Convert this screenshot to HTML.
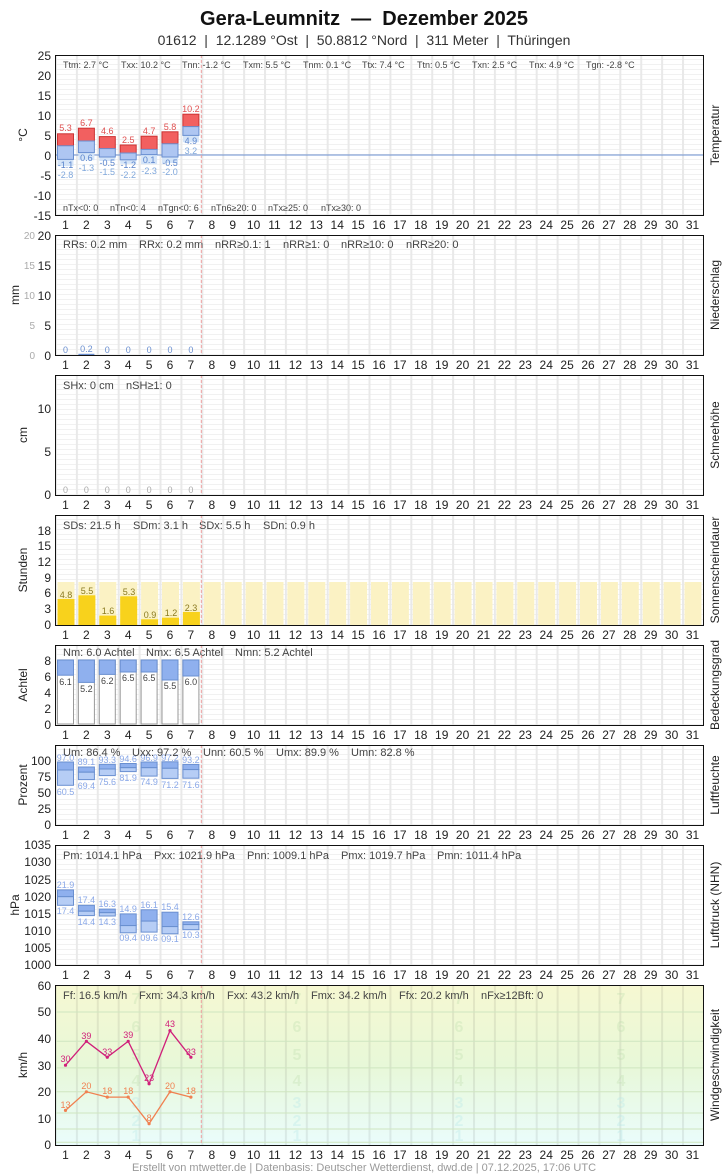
<!DOCTYPE html>
<html><head><meta charset="utf-8"><style>
body{margin:0;background:#fff}
svg{display:block;font-family:"Liberation Sans",sans-serif}
.ax{font-size:12px;fill:#222}
.dl{font-size:12px;fill:#222;text-anchor:middle}
.st{font-size:11px;fill:#444}
.st9{font-size:9px;fill:#444}
.rt{font-size:12px;fill:#222}
.pre{white-space:pre}
</style></head><body>
<svg width="728" height="1175" viewBox="0 0 728 1175">
<defs>
<pattern id="g" x="55" y="0" width="20.9" height="5" patternUnits="userSpaceOnUse">
<rect x="0" y="0" width="20.9" height="5" fill="#fff"/>
<rect x="0" y="4" width="20.9" height="1" fill="#f1f1f1"/>
<rect x="0" y="0" width="2" height="5" fill="#e9e9e9"/>
</pattern>
<pattern id="gv" x="55" y="0" width="20.9" height="5" patternUnits="userSpaceOnUse">
<rect x="0" y="0" width="2" height="5" fill="#000" opacity="0.07"/>
</pattern>
<linearGradient id="wg" x1="0" y1="0" x2="0" y2="1">
<stop offset="0" stop-color="#f6f8d2"/><stop offset="0.5" stop-color="#e8f8d8"/><stop offset="1" stop-color="#eafcfc"/>
</linearGradient>
</defs>

<text class="pre" x="364" y="25" text-anchor="middle" font-size="20" font-weight="bold" fill="#111" xml:space="preserve">Gera-Leumnitz  —  Dezember 2025</text>
<text class="pre" x="364" y="45" text-anchor="middle" font-size="14" fill="#333" xml:space="preserve">01612  |  12.1289 °Ost  |  50.8812 °Nord  |  311 Meter  |  Thüringen</text>

<rect x="55" y="55" width="648" height="160" fill="url(#g)"/>
<rect x="55" y="235" width="648" height="120" fill="url(#g)"/>
<rect x="55" y="375" width="648" height="120" fill="url(#g)"/>
<rect x="55" y="515" width="648" height="110" fill="url(#g)"/>
<rect x="55" y="645" width="648" height="80" fill="url(#g)"/>
<rect x="55" y="745" width="648" height="80" fill="url(#g)"/>
<rect x="55" y="845" width="648" height="120" fill="url(#g)"/>
<rect x="55" y="985" width="648" height="160" fill="url(#wg)"/>
<rect x="55" y="985" width="648" height="160" fill="url(#gv)"/>

<!-- TEMPERATURE -->
<g class="ax" text-anchor="end">
<text x="51" y="60">25</text><text x="51" y="80">20</text><text x="51" y="100">15</text><text x="51" y="120">10</text><text x="51" y="140">5</text><text x="51" y="160">0</text><text x="51" y="180">-5</text><text x="51" y="200">-10</text><text x="51" y="220">-15</text>
</g>
<text class="ax" transform="translate(27,135) rotate(-90)" text-anchor="middle">°C</text>
<line x1="55" y1="155" x2="703" y2="155" stroke="#6a8fd0" stroke-width="1"/>
<g>
<rect x="57.5" y="159.4" width="16" height="6.8" fill="#d4e4f8"/>
<rect x="78.4" y="152.6" width="16" height="7.6" fill="#d4e4f8"/>
<rect x="99.3" y="157" width="16" height="4" fill="#d4e4f8"/>
<rect x="120.2" y="159.8" width="16" height="4" fill="#d4e4f8"/>
<rect x="141.1" y="154.6" width="16" height="9.6" fill="#d4e4f8"/>
<rect x="162" y="157" width="16" height="6" fill="#d4e4f8"/>
<rect x="182.9" y="135.4" width="16" height="6.8" fill="#d4e4f8"/>
</g>
<g stroke-width="1">
<rect x="57.5" y="133.8" width="16" height="12" fill="#f26060" stroke="#c33"/><rect x="57.5" y="145.8" width="16" height="13.6" fill="#aec6f2" stroke="#6a8fd0"/>
<rect x="78.4" y="128.2" width="16" height="12.8" fill="#f26060" stroke="#c33"/><rect x="78.4" y="141" width="16" height="11.6" fill="#aec6f2" stroke="#6a8fd0"/>
<rect x="99.3" y="136.6" width="16" height="12" fill="#f26060" stroke="#c33"/><rect x="99.3" y="148.6" width="16" height="8.4" fill="#aec6f2" stroke="#6a8fd0"/>
<rect x="120.2" y="145" width="16" height="8" fill="#f26060" stroke="#c33"/><rect x="120.2" y="153" width="16" height="6.8" fill="#aec6f2" stroke="#6a8fd0"/>
<rect x="141.1" y="136.2" width="16" height="13.2" fill="#f26060" stroke="#c33"/><rect x="141.1" y="149.4" width="16" height="5.2" fill="#aec6f2" stroke="#6a8fd0"/>
<rect x="162" y="131.8" width="16" height="12" fill="#f26060" stroke="#c33"/><rect x="162" y="143.8" width="16" height="13.2" fill="#aec6f2" stroke="#6a8fd0"/>
<rect x="182.9" y="114.2" width="16" height="12.4" fill="#f26060" stroke="#c33"/><rect x="182.9" y="126.6" width="16" height="8.8" fill="#aec6f2" stroke="#6a8fd0"/>
</g>
<g font-size="9" text-anchor="middle" fill="#e05050">
<text x="65.5" y="131">5.3</text><text x="86.4" y="126">6.7</text><text x="107.3" y="134">4.6</text><text x="128.2" y="143">2.5</text><text x="149.1" y="134">4.7</text><text x="170" y="130">5.8</text><text x="190.9" y="112">10.2</text>
</g>
<g font-size="9" text-anchor="middle" fill="#5a84cc">
<text x="65.5" y="168">-1.1</text><text x="86.4" y="161">0.6</text><text x="107.3" y="166">-0.5</text><text x="128.2" y="168">-1.2</text><text x="149.1" y="163">0.1</text><text x="170" y="166">-0.5</text><text x="190.9" y="144">4.9</text>
</g>
<g font-size="9" text-anchor="middle" fill="#80a8dc">
<text x="65.5" y="178">-2.8</text><text x="86.4" y="171">-1.3</text><text x="107.3" y="175">-1.5</text><text x="128.2" y="178">-2.2</text><text x="149.1" y="174">-2.3</text><text x="170" y="175">-2.0</text><text x="190.9" y="154">3.2</text>
</g>
<g class="st9">
<text x="63" y="68">Ttm: 2.7 °C</text><text x="121" y="68">Txx: 10.2 °C</text><text x="182" y="68">Tnn: -1.2 °C</text><text x="243" y="68">Txm: 5.5 °C</text><text x="303" y="68">Tnm: 0.1 °C</text><text x="362" y="68">Ttx: 7.4 °C</text><text x="417" y="68">Ttn: 0.5 °C</text><text x="472" y="68">Txn: 2.5 °C</text><text x="529" y="68">Tnx: 4.9 °C</text><text x="586" y="68">Tgn: -2.8 °C</text>
<text x="63" y="211">nTx&lt;0: 0</text><text x="110" y="211">nTn&lt;0: 4</text><text x="158" y="211">nTgn&lt;0: 6</text><text x="211" y="211">nTn6≥20: 0</text><text x="268" y="211">nTx≥25: 0</text><text x="321" y="211">nTx≥30: 0</text>
</g>
<text class="rt" transform="translate(719,135) rotate(-90)" text-anchor="middle">Temperatur</text>

<!-- PRECIP -->
<g class="ax" text-anchor="end">
<text x="51" y="240">20</text><text x="51" y="270">15</text><text x="51" y="300">10</text><text x="51" y="330">5</text><text x="51" y="360">0</text>
</g>
<g font-size="10" fill="#aaa" text-anchor="end">
<text x="35" y="239">20</text><text x="35" y="269">15</text><text x="35" y="299">10</text><text x="35" y="329">5</text><text x="35" y="359">0</text>
</g>
<text class="ax" transform="translate(19,295) rotate(-90)" text-anchor="middle">mm</text>
<rect x="78.4" y="353.8" width="16" height="1.2" fill="#6a8fd0"/>
<g font-size="9" text-anchor="middle" fill="#6a8fd0">
<text x="65.5" y="353">0</text><text x="86.4" y="352">0.2</text><text x="107.3" y="353">0</text><text x="128.2" y="353">0</text><text x="149.1" y="353">0</text><text x="170" y="353">0</text><text x="190.9" y="353">0</text>
</g>
<g class="st">
<text x="63" y="248">RRs: 0.2 mm</text><text x="139" y="248">RRx: 0.2 mm</text><text x="215" y="248">nRR≥0.1: 1</text><text x="283" y="248">nRR≥1: 0</text><text x="341" y="248">nRR≥10: 0</text><text x="406" y="248">nRR≥20: 0</text>
</g>
<text class="rt" transform="translate(719,295) rotate(-90)" text-anchor="middle">Niederschlag</text>

<!-- SNOW -->
<g class="ax" text-anchor="end">
<text x="51" y="413">10</text><text x="51" y="456">5</text><text x="51" y="499">0</text>
</g>
<text class="ax" transform="translate(27,435) rotate(-90)" text-anchor="middle">cm</text>
<g font-size="9" text-anchor="middle" fill="#aaa">
<text x="65.5" y="493">0</text><text x="86.4" y="493">0</text><text x="107.3" y="493">0</text><text x="128.2" y="493">0</text><text x="149.1" y="493">0</text><text x="170" y="493">0</text><text x="190.9" y="493">0</text>
</g>
<g class="st"><text x="63" y="389">SHx: 0 cm</text><text x="126" y="389">nSH≥1: 0</text></g>
<text class="rt" transform="translate(719,435) rotate(-90)" text-anchor="middle">Schneehöhe</text>

<!-- SUN -->
<g class="ax" text-anchor="end">
<text x="51" y="535">18</text><text x="51" y="550">15</text><text x="51" y="566">12</text><text x="51" y="582">9</text><text x="51" y="597">6</text><text x="51" y="613">3</text><text x="51" y="629">0</text>
</g>
<text class="ax" transform="translate(27,570) rotate(-90)" text-anchor="middle">Stunden</text>
<g fill="#fbf2c4">
<rect x="57.5" y="582" width="17" height="43"/><rect x="78.4" y="582" width="17" height="43"/><rect x="99.3" y="582" width="17" height="43"/><rect x="120.2" y="582" width="17" height="43"/><rect x="141.1" y="582" width="17" height="43"/><rect x="162" y="582" width="17" height="43"/><rect x="182.9" y="582" width="17" height="43"/><rect x="203.8" y="582" width="17" height="43"/><rect x="224.7" y="582" width="17" height="43"/><rect x="245.6" y="582" width="17" height="43"/><rect x="266.5" y="582" width="17" height="43"/><rect x="287.4" y="582" width="17" height="43"/><rect x="308.3" y="582" width="17" height="43"/><rect x="329.2" y="582" width="17" height="43"/><rect x="350.1" y="582" width="17" height="43"/><rect x="371" y="582" width="17" height="43"/><rect x="391.9" y="582" width="17" height="43"/><rect x="412.8" y="582" width="17" height="43"/><rect x="433.7" y="582" width="17" height="43"/><rect x="454.6" y="582" width="17" height="43"/><rect x="475.5" y="582" width="17" height="43"/><rect x="496.4" y="582" width="17" height="43"/><rect x="517.3" y="582" width="17" height="43"/><rect x="538.2" y="582" width="17" height="43"/><rect x="559.1" y="582" width="17" height="43"/><rect x="580" y="582" width="17" height="43"/><rect x="600.9" y="582" width="17" height="43"/><rect x="621.8" y="582" width="17" height="43"/><rect x="642.7" y="582" width="17" height="43"/><rect x="663.6" y="582" width="17" height="43"/><rect x="684.5" y="582" width="17" height="43"/>
</g>
<g fill="#f8d21c">
<rect x="57.5" y="599" width="17" height="26"/><rect x="78.4" y="595.3" width="17" height="29.7"/><rect x="99.3" y="615.6" width="17" height="9.4"/><rect x="120.2" y="596.3" width="17" height="28.7"/><rect x="141.1" y="619.3" width="17" height="5.7"/><rect x="162" y="617.7" width="17" height="7.3"/><rect x="182.9" y="612" width="17" height="13"/>
</g>
<g font-size="9" text-anchor="middle" fill="#8a7a20">
<text x="66" y="598">4.8</text><text x="87" y="594">5.5</text><text x="108" y="614">1.6</text><text x="129" y="595">5.3</text><text x="150" y="618">0.9</text><text x="171" y="616">1.2</text><text x="191" y="611">2.3</text>
</g>
<g class="st"><text x="63" y="529">SDs: 21.5 h</text><text x="133" y="529">SDm: 3.1 h</text><text x="199" y="529">SDx: 5.5 h</text><text x="263" y="529">SDn: 0.9 h</text></g>
<text class="rt" transform="translate(719,570) rotate(-90)" text-anchor="middle">Sonnenscheindauer</text>

<!-- CLOUD -->
<g class="ax" text-anchor="end">
<text x="51" y="665">8</text><text x="51" y="681">6</text><text x="51" y="697">4</text><text x="51" y="713">2</text><text x="51" y="729">0</text>
</g>
<text class="ax" transform="translate(27,685) rotate(-90)" text-anchor="middle">Achtel</text>
<g fill="#fff" stroke="#999">
<rect x="57.5" y="660" width="16" height="64"/><rect x="78.4" y="660" width="16" height="64"/><rect x="99.3" y="660" width="16" height="64"/><rect x="120.2" y="660" width="16" height="64"/><rect x="141.1" y="660" width="16" height="64"/><rect x="162" y="660" width="16" height="64"/><rect x="182.9" y="660" width="16" height="64"/>
</g>
<g fill="#8fb0ee" stroke="#6a8fd0">
<rect x="57.5" y="660" width="16" height="15.2"/><rect x="78.4" y="660" width="16" height="22.4"/><rect x="99.3" y="660" width="16" height="14.4"/><rect x="120.2" y="660" width="16" height="12"/><rect x="141.1" y="660" width="16" height="12"/><rect x="162" y="660" width="16" height="20"/><rect x="182.9" y="660" width="16" height="16"/>
</g>
<g font-size="9" text-anchor="middle" fill="#444">
<text x="65.5" y="685">6.1</text><text x="86.4" y="692">5.2</text><text x="107.3" y="684">6.2</text><text x="128.2" y="681">6.5</text><text x="149.1" y="681">6.5</text><text x="170" y="689">5.5</text><text x="190.9" y="685">6.0</text>
</g>
<g class="st"><text x="63" y="656">Nm: 6.0 Achtel</text><text x="146" y="656">Nmx: 6.5 Achtel</text><text x="235" y="656">Nmn: 5.2 Achtel</text></g>
<text class="rt" transform="translate(719,685) rotate(-90)" text-anchor="middle">Bedeckungsgrad</text>

<!-- HUMIDITY -->
<g class="ax" text-anchor="end">
<text x="51" y="765">100</text><text x="51" y="781">75</text><text x="51" y="797">50</text><text x="51" y="813">25</text><text x="51" y="829">0</text>
</g>
<text class="ax" transform="translate(27,785) rotate(-90)" text-anchor="middle">Prozent</text>
<g stroke="#6a8fd0">
<rect x="57.5" y="762" width="16" height="8" fill="#8fb0ee"/><rect x="57.5" y="770" width="16" height="15.3" fill="#b6cdf5"/>
<rect x="78.4" y="767" width="16" height="5.2" fill="#8fb0ee"/><rect x="78.4" y="772.2" width="16" height="7.4" fill="#b6cdf5"/>
<rect x="99.3" y="764.3" width="16" height="4.7" fill="#8fb0ee"/><rect x="99.3" y="769" width="16" height="6.6" fill="#b6cdf5"/>
<rect x="120.2" y="763.5" width="16" height="4.2" fill="#8fb0ee"/><rect x="120.2" y="767.7" width="16" height="3.9" fill="#b6cdf5"/>
<rect x="141.1" y="762" width="16" height="5.7" fill="#8fb0ee"/><rect x="141.1" y="767.7" width="16" height="8.4" fill="#b6cdf5"/>
<rect x="162" y="761.8" width="16" height="6.5" fill="#8fb0ee"/><rect x="162" y="768.3" width="16" height="10.1" fill="#b6cdf5"/>
<rect x="182.9" y="764.4" width="16" height="5.2" fill="#8fb0ee"/><rect x="182.9" y="769.6" width="16" height="8.6" fill="#b6cdf5"/>
</g>
<g font-size="9" text-anchor="middle" fill="#8aa8e8">
<text x="65.5" y="761">97.0</text><text x="86.4" y="765">89.1</text><text x="107.3" y="763">93.3</text><text x="128.2" y="762">94.6</text><text x="149.1" y="761">96.9</text><text x="170" y="761">97.2</text><text x="190.9" y="763">93.2</text>
<text x="65.5" y="795">60.5</text><text x="86.4" y="789">69.4</text><text x="107.3" y="785">75.6</text><text x="128.2" y="781">81.9</text><text x="149.1" y="785">74.9</text><text x="170" y="788">71.2</text><text x="190.9" y="788">71.6</text>
</g>
<g class="st"><text x="63" y="756">Um: 86.4 %</text><text x="132" y="756">Uxx: 97.2 %</text><text x="203" y="756">Unn: 60.5 %</text><text x="276" y="756">Umx: 89.9 %</text><text x="351" y="756">Umn: 82.8 %</text></g>
<text class="rt" transform="translate(719,785) rotate(-90)" text-anchor="middle">Luftfeuchte</text>

<!-- PRESSURE -->
<g class="ax" text-anchor="end">
<text x="51" y="849">1035</text><text x="51" y="866">1030</text><text x="51" y="884">1025</text><text x="51" y="901">1020</text><text x="51" y="918">1015</text><text x="51" y="935">1010</text><text x="51" y="952">1005</text><text x="51" y="969">1000</text>
</g>
<text class="ax" transform="translate(19,905) rotate(-90)" text-anchor="middle">hPa</text>
<g stroke="#6a8fd0">
<rect x="57.5" y="889.9" width="16" height="6.8" fill="#8fb0ee"/><rect x="57.5" y="896.7" width="16" height="8.6" fill="#b6cdf5"/>
<rect x="78.4" y="905.3" width="16" height="5.9" fill="#8fb0ee"/><rect x="78.4" y="911.2" width="16" height="4.4" fill="#b6cdf5"/>
<rect x="99.3" y="909.1" width="16" height="3.6" fill="#8fb0ee"/><rect x="99.3" y="912.7" width="16" height="3.3" fill="#b6cdf5"/>
<rect x="120.2" y="913.9" width="16" height="11.7" fill="#8fb0ee"/><rect x="120.2" y="925.6" width="16" height="7.2" fill="#b6cdf5"/>
<rect x="141.1" y="909.8" width="16" height="11.3" fill="#8fb0ee"/><rect x="141.1" y="921.1" width="16" height="11" fill="#b6cdf5"/>
<rect x="162" y="912.2" width="16" height="14.4" fill="#8fb0ee"/><rect x="162" y="926.6" width="16" height="7.2" fill="#b6cdf5"/>
<rect x="182.9" y="921.8" width="16" height="2.8" fill="#8fb0ee"/><rect x="182.9" y="924.6" width="16" height="5.1" fill="#b6cdf5"/>
</g>
<g font-size="9" text-anchor="middle" fill="#8aa8e8">
<text x="65.5" y="888">21.9</text><text x="86.4" y="903">17.4</text><text x="107.3" y="907">16.3</text><text x="128.2" y="912">14.9</text><text x="149.1" y="908">16.1</text><text x="170" y="910">15.4</text><text x="190.9" y="920">12.6</text>
<text x="65.5" y="914">17.4</text><text x="86.4" y="925">14.4</text><text x="107.3" y="925">14.3</text><text x="128.2" y="941">09.4</text><text x="149.1" y="941">09.6</text><text x="170" y="942">09.1</text><text x="190.9" y="938">10.3</text>
</g>
<g class="st"><text x="63" y="859">Pm: 1014.1 hPa</text><text x="154" y="859">Pxx: 1021.9 hPa</text><text x="247" y="859">Pnn: 1009.1 hPa</text><text x="341" y="859">Pmx: 1019.7 hPa</text><text x="437" y="859">Pmn: 1011.4 hPa</text></g>
<text class="rt" transform="translate(719,905) rotate(-90)" text-anchor="middle">Luftdruck (NHN)</text>

<!-- WIND -->
<g stroke="#cfe6c0" stroke-width="1">
<line x1="55" y1="1142.3" x2="703" y2="1142.3"/><line x1="55" y1="1129" x2="703" y2="1129"/><line x1="55" y1="1113" x2="703" y2="1113"/><line x1="55" y1="1091.8" x2="703" y2="1091.8"/><line x1="55" y1="1067.9" x2="703" y2="1067.9"/><line x1="55" y1="1041.3" x2="703" y2="1041.3"/><line x1="55" y1="1012" x2="703" y2="1012"/>
</g>
<g font-size="16" font-weight="bold" text-anchor="middle" opacity="0.35">
<g fill="#b8e8e8"><text x="136" y="1141">1</text><text x="297" y="1141">1</text><text x="459" y="1141">1</text><text x="621" y="1141">1</text>
<text x="136" y="1126">2</text><text x="297" y="1126">2</text><text x="459" y="1126">2</text><text x="621" y="1126">2</text>
<text x="136" y="1108">3</text><text x="297" y="1108">3</text><text x="459" y="1108">3</text><text x="621" y="1108">3</text></g>
<g fill="#c0dfb0"><text x="136" y="1086">4</text><text x="297" y="1086">4</text><text x="459" y="1086">4</text><text x="621" y="1086">4</text>
<text x="136" y="1060">5</text><text x="297" y="1060">5</text><text x="459" y="1060">5</text><text x="621" y="1060">5</text>
<text x="136" y="1032">6</text><text x="297" y="1032">6</text><text x="459" y="1032">6</text><text x="621" y="1032">6</text>
<text x="136" y="1004">7</text><text x="297" y="1004">7</text><text x="459" y="1004">7</text><text x="621" y="1004">7</text></g>
</g>
<g class="ax" text-anchor="end">
<text x="51" y="990">60</text><text x="51" y="1016">50</text><text x="51" y="1043">40</text><text x="51" y="1070">30</text><text x="51" y="1096">20</text><text x="51" y="1123">10</text><text x="51" y="1149">0</text>
</g>
<text class="ax" transform="translate(27,1065) rotate(-90)" text-anchor="middle">km/h</text>
<polyline points="65.5,1065.2 86.4,1041.3 107.3,1057.2 128.2,1041.3 149.1,1083.8 170,1030.6 190.9,1057.2" fill="none" stroke="#d0207a" stroke-width="1.3"/>
<polyline points="65.5,1110.4 86.4,1091.8 107.3,1097.1 128.2,1097.1 149.1,1123.7 170,1091.8 190.9,1097.1" fill="none" stroke="#f08050" stroke-width="1.3"/>
<g fill="#d0207a"><circle cx="65.5" cy="1065.2" r="1.6"/><circle cx="86.4" cy="1041.3" r="1.6"/><circle cx="107.3" cy="1057.2" r="1.6"/><circle cx="128.2" cy="1041.3" r="1.6"/><circle cx="149.1" cy="1083.8" r="1.6"/><circle cx="170" cy="1030.6" r="1.6"/><circle cx="190.9" cy="1057.2" r="1.6"/></g>
<g fill="#f08050"><circle cx="65.5" cy="1110.4" r="1.6"/><circle cx="86.4" cy="1091.8" r="1.6"/><circle cx="107.3" cy="1097.1" r="1.6"/><circle cx="128.2" cy="1097.1" r="1.6"/><circle cx="149.1" cy="1123.7" r="1.6"/><circle cx="170" cy="1091.8" r="1.6"/><circle cx="190.9" cy="1097.1" r="1.6"/></g>
<g font-size="9" text-anchor="middle" fill="#d0207a">
<text x="65.5" y="1062">30</text><text x="86.4" y="1039">39</text><text x="107.3" y="1055">33</text><text x="128.2" y="1038">39</text><text x="149.1" y="1081">23</text><text x="170" y="1027">43</text><text x="190.9" y="1055">33</text>
</g>
<g font-size="9" text-anchor="middle" fill="#f08050">
<text x="65.5" y="1108">13</text><text x="86.4" y="1089">20</text><text x="107.3" y="1094">18</text><text x="128.2" y="1094">18</text><text x="149.1" y="1121">8</text><text x="170" y="1089">20</text><text x="190.9" y="1094">18</text>
</g>
<g class="st"><text x="63" y="999">Ff: 16.5 km/h</text><text x="139" y="999">Fxm: 34.3 km/h</text><text x="227" y="999">Fxx: 43.2 km/h</text><text x="311" y="999">Fmx: 34.2 km/h</text><text x="399" y="999">Ffx: 20.2 km/h</text><text x="481" y="999">nFx≥12Bft: 0</text></g>
<text class="rt" transform="translate(719,1065) rotate(-90)" text-anchor="middle">Windgeschwindigkeit</text>

<g stroke="#f0a0a0" stroke-width="1" stroke-dasharray="3,2">
<line x1="201.3" y1="55" x2="201.3" y2="215"/><line x1="201.3" y1="235" x2="201.3" y2="355"/><line x1="201.3" y1="375" x2="201.3" y2="495"/><line x1="201.3" y1="515" x2="201.3" y2="625"/><line x1="201.3" y1="645" x2="201.3" y2="725"/><line x1="201.3" y1="745" x2="201.3" y2="825"/><line x1="201.3" y1="845" x2="201.3" y2="965"/><line x1="201.3" y1="985" x2="201.3" y2="1145"/>
</g>

<g fill="none" stroke="#111" stroke-width="1">
<rect x="55.5" y="55.5" width="648" height="160"/><rect x="55.5" y="235.5" width="648" height="120"/><rect x="55.5" y="375.5" width="648" height="120"/><rect x="55.5" y="515.5" width="648" height="110"/><rect x="55.5" y="645.5" width="648" height="80"/><rect x="55.5" y="745.5" width="648" height="80"/><rect x="55.5" y="845.5" width="648" height="120"/><rect x="55.5" y="985.5" width="648" height="160"/>
</g>

<text class="dl" y="229"><tspan x="65.5">1</tspan><tspan x="86.4">2</tspan><tspan x="107.3">3</tspan><tspan x="128.2">4</tspan><tspan x="149.1">5</tspan><tspan x="170">6</tspan><tspan x="190.9">7</tspan><tspan x="211.8">8</tspan><tspan x="232.7">9</tspan><tspan x="253.6">10</tspan><tspan x="274.5">11</tspan><tspan x="295.4">12</tspan><tspan x="316.3">13</tspan><tspan x="337.2">14</tspan><tspan x="358.1">15</tspan><tspan x="379">16</tspan><tspan x="399.9">17</tspan><tspan x="420.8">18</tspan><tspan x="441.7">19</tspan><tspan x="462.6">20</tspan><tspan x="483.5">21</tspan><tspan x="504.4">22</tspan><tspan x="525.3">23</tspan><tspan x="546.2">24</tspan><tspan x="567.1">25</tspan><tspan x="588">26</tspan><tspan x="608.9">27</tspan><tspan x="629.8">28</tspan><tspan x="650.7">29</tspan><tspan x="671.6">30</tspan><tspan x="692.5">31</tspan></text>
<text class="dl" y="369"><tspan x="65.5">1</tspan><tspan x="86.4">2</tspan><tspan x="107.3">3</tspan><tspan x="128.2">4</tspan><tspan x="149.1">5</tspan><tspan x="170">6</tspan><tspan x="190.9">7</tspan><tspan x="211.8">8</tspan><tspan x="232.7">9</tspan><tspan x="253.6">10</tspan><tspan x="274.5">11</tspan><tspan x="295.4">12</tspan><tspan x="316.3">13</tspan><tspan x="337.2">14</tspan><tspan x="358.1">15</tspan><tspan x="379">16</tspan><tspan x="399.9">17</tspan><tspan x="420.8">18</tspan><tspan x="441.7">19</tspan><tspan x="462.6">20</tspan><tspan x="483.5">21</tspan><tspan x="504.4">22</tspan><tspan x="525.3">23</tspan><tspan x="546.2">24</tspan><tspan x="567.1">25</tspan><tspan x="588">26</tspan><tspan x="608.9">27</tspan><tspan x="629.8">28</tspan><tspan x="650.7">29</tspan><tspan x="671.6">30</tspan><tspan x="692.5">31</tspan></text>
<text class="dl" y="509"><tspan x="65.5">1</tspan><tspan x="86.4">2</tspan><tspan x="107.3">3</tspan><tspan x="128.2">4</tspan><tspan x="149.1">5</tspan><tspan x="170">6</tspan><tspan x="190.9">7</tspan><tspan x="211.8">8</tspan><tspan x="232.7">9</tspan><tspan x="253.6">10</tspan><tspan x="274.5">11</tspan><tspan x="295.4">12</tspan><tspan x="316.3">13</tspan><tspan x="337.2">14</tspan><tspan x="358.1">15</tspan><tspan x="379">16</tspan><tspan x="399.9">17</tspan><tspan x="420.8">18</tspan><tspan x="441.7">19</tspan><tspan x="462.6">20</tspan><tspan x="483.5">21</tspan><tspan x="504.4">22</tspan><tspan x="525.3">23</tspan><tspan x="546.2">24</tspan><tspan x="567.1">25</tspan><tspan x="588">26</tspan><tspan x="608.9">27</tspan><tspan x="629.8">28</tspan><tspan x="650.7">29</tspan><tspan x="671.6">30</tspan><tspan x="692.5">31</tspan></text>
<text class="dl" y="639"><tspan x="65.5">1</tspan><tspan x="86.4">2</tspan><tspan x="107.3">3</tspan><tspan x="128.2">4</tspan><tspan x="149.1">5</tspan><tspan x="170">6</tspan><tspan x="190.9">7</tspan><tspan x="211.8">8</tspan><tspan x="232.7">9</tspan><tspan x="253.6">10</tspan><tspan x="274.5">11</tspan><tspan x="295.4">12</tspan><tspan x="316.3">13</tspan><tspan x="337.2">14</tspan><tspan x="358.1">15</tspan><tspan x="379">16</tspan><tspan x="399.9">17</tspan><tspan x="420.8">18</tspan><tspan x="441.7">19</tspan><tspan x="462.6">20</tspan><tspan x="483.5">21</tspan><tspan x="504.4">22</tspan><tspan x="525.3">23</tspan><tspan x="546.2">24</tspan><tspan x="567.1">25</tspan><tspan x="588">26</tspan><tspan x="608.9">27</tspan><tspan x="629.8">28</tspan><tspan x="650.7">29</tspan><tspan x="671.6">30</tspan><tspan x="692.5">31</tspan></text>
<text class="dl" y="739"><tspan x="65.5">1</tspan><tspan x="86.4">2</tspan><tspan x="107.3">3</tspan><tspan x="128.2">4</tspan><tspan x="149.1">5</tspan><tspan x="170">6</tspan><tspan x="190.9">7</tspan><tspan x="211.8">8</tspan><tspan x="232.7">9</tspan><tspan x="253.6">10</tspan><tspan x="274.5">11</tspan><tspan x="295.4">12</tspan><tspan x="316.3">13</tspan><tspan x="337.2">14</tspan><tspan x="358.1">15</tspan><tspan x="379">16</tspan><tspan x="399.9">17</tspan><tspan x="420.8">18</tspan><tspan x="441.7">19</tspan><tspan x="462.6">20</tspan><tspan x="483.5">21</tspan><tspan x="504.4">22</tspan><tspan x="525.3">23</tspan><tspan x="546.2">24</tspan><tspan x="567.1">25</tspan><tspan x="588">26</tspan><tspan x="608.9">27</tspan><tspan x="629.8">28</tspan><tspan x="650.7">29</tspan><tspan x="671.6">30</tspan><tspan x="692.5">31</tspan></text>
<text class="dl" y="839"><tspan x="65.5">1</tspan><tspan x="86.4">2</tspan><tspan x="107.3">3</tspan><tspan x="128.2">4</tspan><tspan x="149.1">5</tspan><tspan x="170">6</tspan><tspan x="190.9">7</tspan><tspan x="211.8">8</tspan><tspan x="232.7">9</tspan><tspan x="253.6">10</tspan><tspan x="274.5">11</tspan><tspan x="295.4">12</tspan><tspan x="316.3">13</tspan><tspan x="337.2">14</tspan><tspan x="358.1">15</tspan><tspan x="379">16</tspan><tspan x="399.9">17</tspan><tspan x="420.8">18</tspan><tspan x="441.7">19</tspan><tspan x="462.6">20</tspan><tspan x="483.5">21</tspan><tspan x="504.4">22</tspan><tspan x="525.3">23</tspan><tspan x="546.2">24</tspan><tspan x="567.1">25</tspan><tspan x="588">26</tspan><tspan x="608.9">27</tspan><tspan x="629.8">28</tspan><tspan x="650.7">29</tspan><tspan x="671.6">30</tspan><tspan x="692.5">31</tspan></text>
<text class="dl" y="979"><tspan x="65.5">1</tspan><tspan x="86.4">2</tspan><tspan x="107.3">3</tspan><tspan x="128.2">4</tspan><tspan x="149.1">5</tspan><tspan x="170">6</tspan><tspan x="190.9">7</tspan><tspan x="211.8">8</tspan><tspan x="232.7">9</tspan><tspan x="253.6">10</tspan><tspan x="274.5">11</tspan><tspan x="295.4">12</tspan><tspan x="316.3">13</tspan><tspan x="337.2">14</tspan><tspan x="358.1">15</tspan><tspan x="379">16</tspan><tspan x="399.9">17</tspan><tspan x="420.8">18</tspan><tspan x="441.7">19</tspan><tspan x="462.6">20</tspan><tspan x="483.5">21</tspan><tspan x="504.4">22</tspan><tspan x="525.3">23</tspan><tspan x="546.2">24</tspan><tspan x="567.1">25</tspan><tspan x="588">26</tspan><tspan x="608.9">27</tspan><tspan x="629.8">28</tspan><tspan x="650.7">29</tspan><tspan x="671.6">30</tspan><tspan x="692.5">31</tspan></text>
<text class="dl" y="1159"><tspan x="65.5">1</tspan><tspan x="86.4">2</tspan><tspan x="107.3">3</tspan><tspan x="128.2">4</tspan><tspan x="149.1">5</tspan><tspan x="170">6</tspan><tspan x="190.9">7</tspan><tspan x="211.8">8</tspan><tspan x="232.7">9</tspan><tspan x="253.6">10</tspan><tspan x="274.5">11</tspan><tspan x="295.4">12</tspan><tspan x="316.3">13</tspan><tspan x="337.2">14</tspan><tspan x="358.1">15</tspan><tspan x="379">16</tspan><tspan x="399.9">17</tspan><tspan x="420.8">18</tspan><tspan x="441.7">19</tspan><tspan x="462.6">20</tspan><tspan x="483.5">21</tspan><tspan x="504.4">22</tspan><tspan x="525.3">23</tspan><tspan x="546.2">24</tspan><tspan x="567.1">25</tspan><tspan x="588">26</tspan><tspan x="608.9">27</tspan><tspan x="629.8">28</tspan><tspan x="650.7">29</tspan><tspan x="671.6">30</tspan><tspan x="692.5">31</tspan></text>

<text x="364" y="1171" text-anchor="middle" font-size="11" fill="#999">Erstellt von mtwetter.de | Datenbasis: Deutscher Wetterdienst, dwd.de | 07.12.2025, 17:06 UTC</text>
</svg>
</body></html>
